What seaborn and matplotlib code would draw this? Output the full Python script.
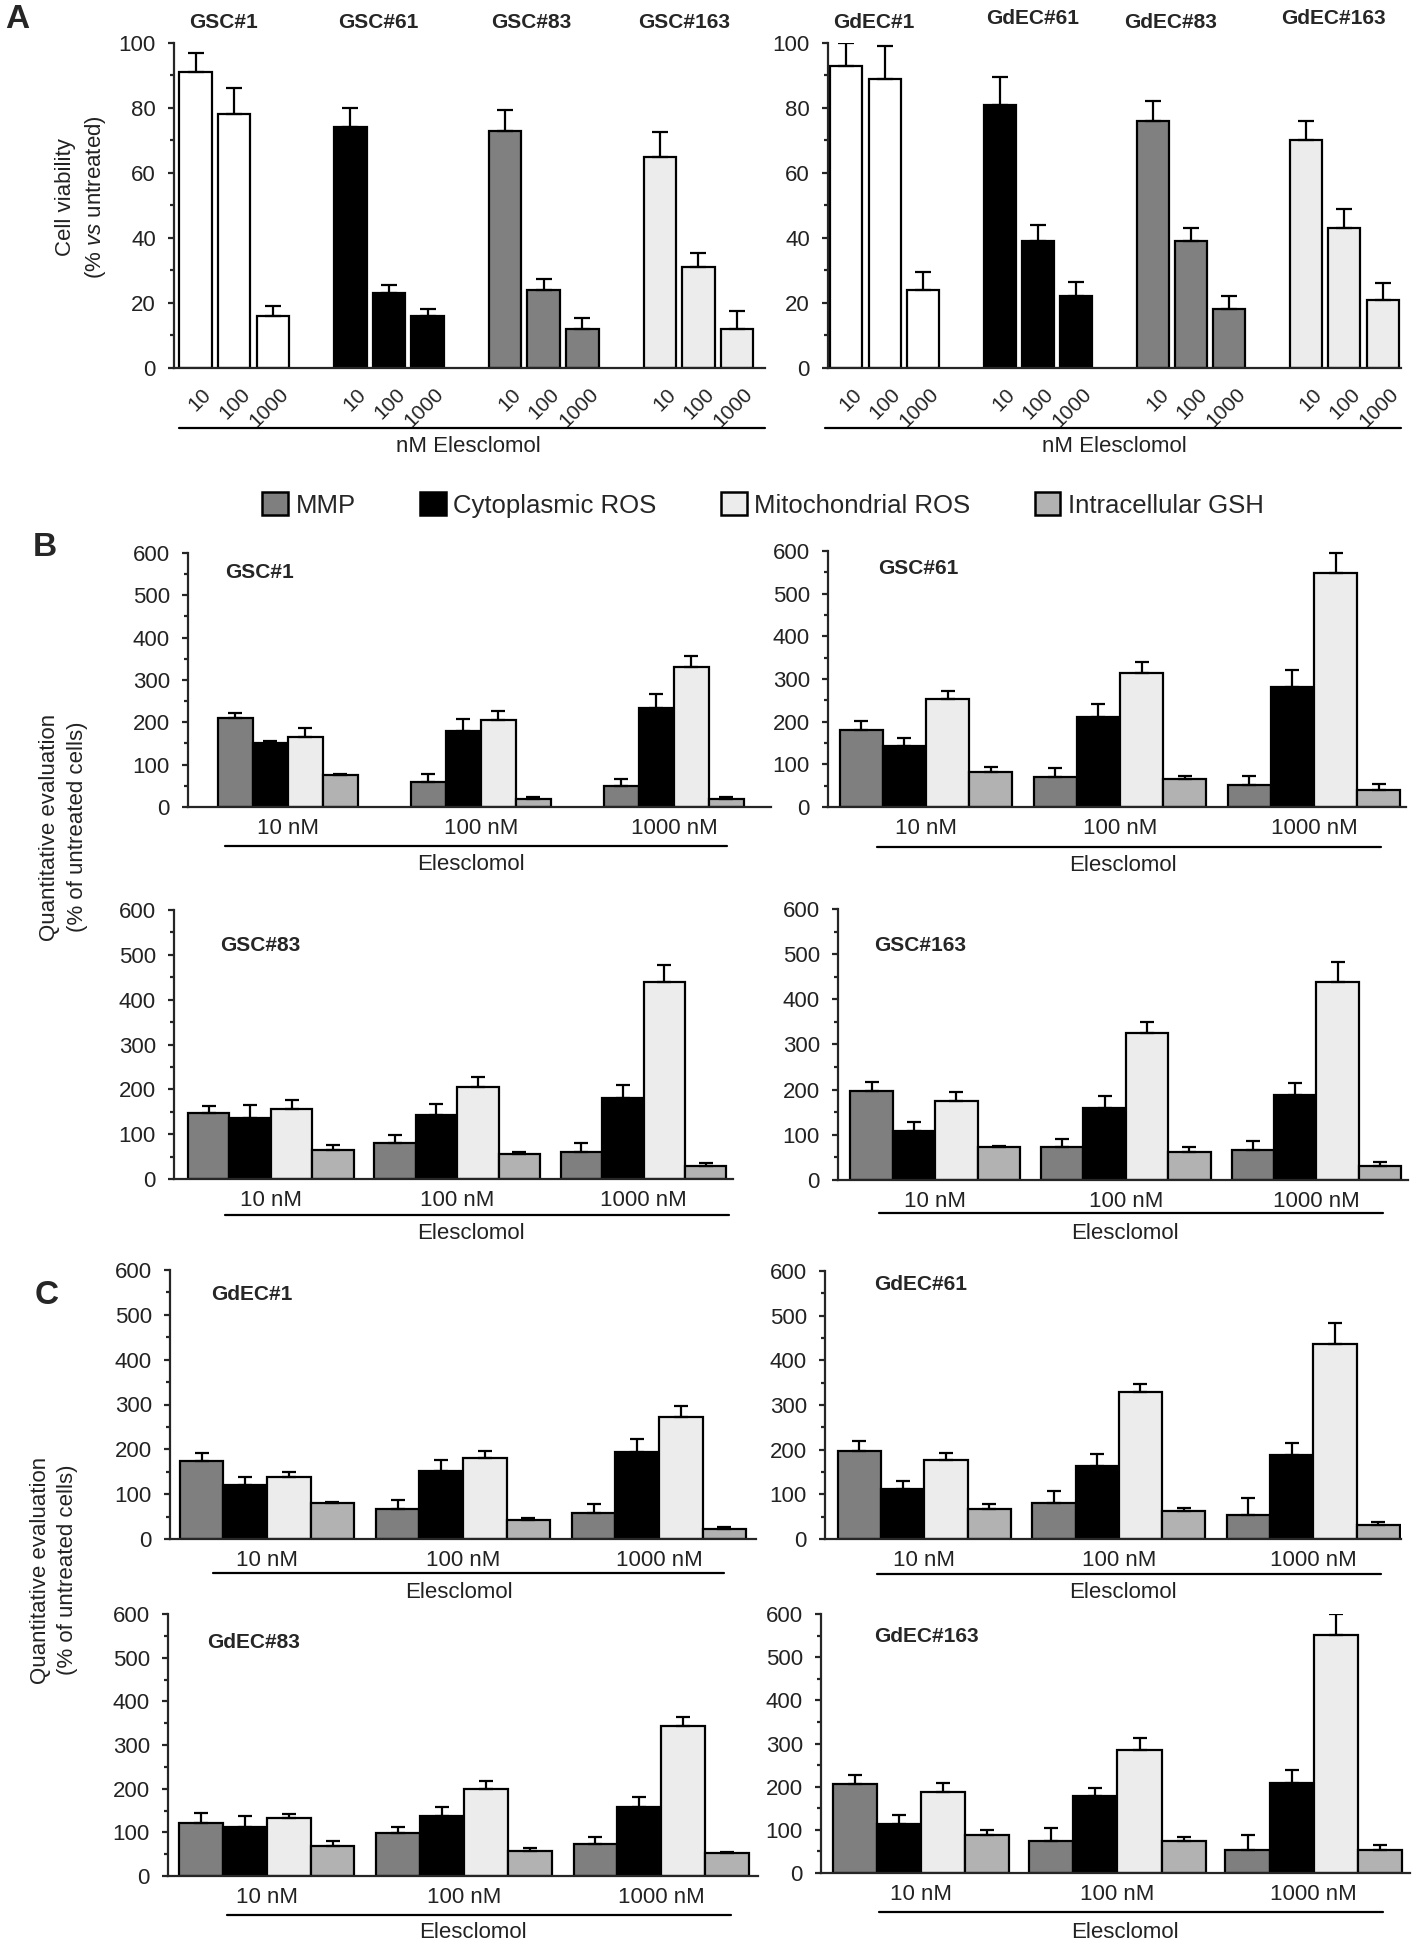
import numpy as np
import pandas as pd
import matplotlib
matplotlib.use("Agg")
import matplotlib.pyplot as plt
import seaborn as sns
from matplotlib.container import BarContainer
from matplotlib.lines import Line2D
from matplotlib.patches import Patch
from matplotlib.ticker import MultipleLocator

W, H = 1418, 1944

# ---- panel A: cell viability (% vs untreated), mean and SD
doses_a = ["10", "100", "1000"]
gsc_lines = ["GSC#1", "GSC#61", "GSC#83", "GSC#163"]
gsc_viab = [[91, 78, 16], [74, 23, 16], [73, 24, 12], [65, 31, 12]]
gsc_viab_sd = [[6, 8, 3], [6, 2.5, 2], [6.5, 3.5, 3.5], [7.5, 4.5, 5.5]]
gdec_lines = ["GdEC#1", "GdEC#61", "GdEC#83", "GdEC#163"]
gdec_viab = [[93, 89, 24], [81, 39, 22], [76, 39, 18], [70, 43, 21]]
gdec_viab_sd = [[7, 10, 5.5], [8.5, 5, 4.5], [6, 4, 4], [6, 6, 5]]

# ---- panels B/C: rows = measure, columns = 10 / 100 / 1000 nM
measures = ["MMP", "Cytoplasmic ROS", "Mitochondrial ROS", "Intracellular GSH"]
doses_bc = ["10 nM", "100 nM", "1000 nM"]

gsc1_mean = [[211, 59, 50], [150, 180, 235], [166, 205, 331], [75, 18, 20]]
gsc1_sd = [[12, 18, 16], [5, 28, 32], [21, 22, 26], [4, 6, 4]]
gsc61_mean = [[180, 70, 51], [143, 211, 281], [252, 315, 548], [82, 66, 41]]
gsc61_sd = [[22, 22, 22], [19, 30, 39], [20, 26, 48], [12, 6, 12]]
gsc83_mean = [[147, 80, 60], [137, 143, 180], [156, 206, 440], [65, 56, 28]]
gsc83_sd = [[15, 19, 20], [28, 24, 29], [21, 21, 37], [11, 4, 8]]
gsc163_mean = [[198, 72, 67], [109, 160, 188], [176, 325, 439], [72, 61, 30]]
gsc163_sd = [[20, 19, 19], [19, 25, 26], [18, 24, 43], [4, 11, 9]]

gdec1_mean = [[175, 68, 58], [121, 152, 195], [138, 181, 273], [80, 42, 22]]
gdec1_sd = [[17, 20, 20], [17, 25, 29], [11, 16, 23], [2, 5, 4]]
gdec61_mean = [[196, 80, 54], [112, 164, 189], [176, 328, 437], [67, 63, 31]]
gdec61_sd = [[24, 27, 38], [18, 27, 27], [16, 19, 46], [11, 6, 7]]
gdec83_mean = [[122, 98, 73], [113, 138, 157], [133, 200, 343], [68, 58, 52]]
gdec83_sd = [[22, 14, 16], [25, 19, 25], [9, 17, 22], [12, 5, 4]]
gdec163_mean = [[206, 74, 54], [114, 178, 209], [188, 285, 552], [88, 74, 53]]
gdec163_sd = [[22, 31, 35], [20, 20, 29], [21, 27, 48], [12, 10, 12]]

line_colors = ["#ffffff", "#000000", "#808080", "#ececec"]
measure_colors = ["#7f7f7f", "#000000", "#ececec", "#b2b2b2"]

sns.set_style("white")
plt.rcParams["font.family"] = ["Liberation Sans", "DejaVu Sans"]
plt.rcParams["mathtext.fontset"] = "custom"
plt.rcParams["mathtext.it"] = "Liberation Sans:italic"
plt.rcParams["mathtext.rm"] = "Liberation Sans"

LW = 1.6
fig = plt.figure(figsize=(W / 100, H / 100), dpi=100)


def rect(left, right, top, bottom):
    return [left / W, 1 - bottom / H, (right - left) / W, (bottom - top) / H]


def ftext(x, y, s, **kw):
    fig.text(x / W, 1 - y / H, s, **kw)


def fline(x0, x1, y):
    fig.add_artist(Line2D([x0 / W, x1 / W], [1 - y / H, 1 - y / H],
                          transform=fig.transFigure, color="black", lw=LW))


def bar_containers(ax):
    return [c for c in ax.containers if isinstance(c, BarContainer)]


def style_axes(ax, ymax, major, minor):
    sns.despine(ax=ax)
    for s in ("left", "bottom"):
        ax.spines[s].set_linewidth(LW)
    ax.set_ylim(0, ymax)
    ax.yaxis.set_major_locator(MultipleLocator(major))
    ax.yaxis.set_minor_locator(MultipleLocator(minor))
    ax.tick_params(axis="y", which="major", direction="out", left=True,
                   length=4, width=LW, labelsize=16, pad=9, labelcolor="#222222")
    ax.tick_params(axis="y", which="minor", direction="out", left=True,
                   length=3, width=LW)
    ax.set_xlabel("")
    ax.set_ylabel("")


# ---------------- panel A ----------------
def viability_panel(box, xlim, lines, vals, sds, titles_xy, line_seg, text_xy):
    ax = fig.add_axes(rect(*box))
    rows = []
    for g, name in enumerate(lines):
        for k, d in enumerate(doses_a):
            rows.append({"slot": g * 4 + k, "line": name, "dose": d,
                         "value": vals[g][k], "sd": sds[g][k]})
    df = pd.DataFrame(rows)
    sns.barplot(data=df, x="slot", y="value", hue="line", hue_order=lines,
                palette=line_colors, native_scale=True, dodge=False, width=0.84,
                errorbar=None, saturation=1, edgecolor="black", linewidth=LW,
                legend=False, ax=ax)
    lookup = df.set_index("slot")
    for cont in bar_containers(ax):
        for bar in cont:
            xc = bar.get_x() + bar.get_width() / 2
            row = lookup.loc[int(round(xc))]
            ax.errorbar(xc, row["value"], yerr=[[0], [row["sd"]]], fmt="none",
                        ecolor="black", elinewidth=LW, capsize=6, capthick=LW)
    style_axes(ax, 100, 20, 10)
    ax.set_xlim(*xlim)
    ax.set_xticks(df["slot"] + 0.16)
    ax.set_xticklabels(df["dose"], rotation=45, ha="right",
                       rotation_mode="anchor", fontsize=15, color="#222222")
    ax.tick_params(axis="x", length=0, pad=12)
    for name, (tx, ty) in zip(lines, titles_xy):
        ftext(tx, ty, name, ha="center", va="center", fontsize=15,
              fontweight="bold")
    fline(*line_seg)
    ftext(*text_xy, "nM Elesclomol", ha="center", va="center", fontsize=16,
          color="#222222")


viability_panel((174, 765, 43, 368), (-0.556, 14.72), gsc_lines, gsc_viab,
                gsc_viab_sd, [(224, 23), (378, 23), (531, 23), (684, 23)],
                (179, 765, 428), (468, 446))
viability_panel((828, 1401, 43, 368), (-0.48, 14.48), gdec_lines, gdec_viab,
                gdec_viab_sd, [(874, 22), (1033, 18), (1171, 22), (1333, 18)],
                (825, 1401, 428), (1114, 446))

ftext(17, 20, "A", ha="center", va="center", fontsize=24, fontweight="bold")
ftext(65, 197, "Cell viability", rotation=90, ha="center", va="center",
      fontsize=16, color="#222222")
ftext(95, 197, r"(% $\it{vs}$ untreated)", rotation=90, ha="center",
      va="center", fontsize=16, color="#222222")


# ---------------- panels B and C ----------------
def measure_panel(title, mean, sd, box, width, xlim, title_xy, line_seg, eles_xy):
    ax = fig.add_axes(rect(*box))
    df = pd.DataFrame([{"measure": m, "dose": d, "value": mean[i][j]}
                       for i, m in enumerate(measures)
                       for j, d in enumerate(doses_bc)])
    sns.barplot(data=df, x="dose", y="value", hue="measure",
                order=doses_bc, hue_order=measures, palette=measure_colors,
                width=width, gap=0, errorbar=None, saturation=1,
                edgecolor="black", linewidth=LW, legend=False, ax=ax)
    for i, cont in enumerate(bar_containers(ax)):
        for bar in cont:
            xc = bar.get_x() + bar.get_width() / 2
            j = int(round(xc))
            ax.errorbar(xc, mean[i][j], yerr=[[0], [sd[i][j]]], fmt="none",
                        ecolor="black", elinewidth=LW, capsize=5, capthick=LW)
    style_axes(ax, 600, 100, 50)
    ax.set_xlim(*xlim)
    ax.tick_params(axis="x", length=0, pad=8, labelsize=16, labelcolor="#222222")
    ftext(*title_xy, title, ha="left", va="center", fontsize=15,
          fontweight="bold")
    fline(*line_seg)
    ftext(*eles_xy, "Elesclomol", ha="center", va="center", fontsize=16,
          color="#222222")


measure_panel("GSC#1", gsc1_mean, gsc1_sd, (188, 771, 553, 807), 0.725,
              (-0.518, 2.503), (225, 572), (225, 727, 846), (471, 864))
measure_panel("GSC#61", gsc61_mean, gsc61_sd, (828, 1406, 551, 807), 0.89,
              (-0.505, 2.474), (878, 568), (877, 1381, 847), (1123, 865))
measure_panel("GSC#83", gsc83_mean, gsc83_sd, (174, 733, 910, 1179), 0.89,
              (-0.52, 2.48), (220, 945), (225, 729, 1215), (471, 1233))
measure_panel("GSC#163", gsc163_mean, gsc163_sd, (838, 1408, 909, 1180), 0.89,
              (-0.51, 2.48), (874, 945), (879, 1383, 1213), (1125, 1233))
measure_panel("GdEC#1", gdec1_mean, gdec1_sd, (170, 756, 1270, 1539), 0.89,
              (-0.495, 2.495), (211, 1294), (213, 724, 1573), (459, 1592))
measure_panel("GdEC#61", gdec61_mean, gdec61_sd, (825, 1401, 1271, 1539), 0.89,
              (-0.51, 2.45), (874, 1284), (877, 1381, 1574), (1123, 1592))
measure_panel("GdEC#83", gdec83_mean, gdec83_sd, (168, 758, 1614, 1876), 0.89,
              (-0.50, 2.49), (207, 1642), (227, 731, 1915), (473, 1932))
measure_panel("GdEC#163", gdec163_mean, gdec163_sd, (821, 1410, 1614, 1873), 0.9,
              (-0.51, 2.49), (874, 1636), (879, 1383, 1912), (1125, 1932))

ftext(45, 548, "B", ha="center", va="center", fontsize=24, fontweight="bold")
ftext(47, 1295, "C", ha="center", va="center", fontsize=24, fontweight="bold")
for x1, x2, yc in [(50, 78, 827), (41, 68, 1570)]:
    ftext(x1, yc, "Quantitative evaluation", rotation=90, ha="center",
          va="center", fontsize=16, color="#222222")
    ftext(x2, yc, "(% of untreated cells)", rotation=90, ha="center",
          va="center", fontsize=16, color="#222222")

handles = [Patch(facecolor=c, edgecolor="black", linewidth=1.8, label=m)
           for m, c in zip(measures, measure_colors)]
fig.legend(handles=handles, loc="center", bbox_to_anchor=(763 / W, 1 - 505 / H),
           ncol=4, frameon=False, fontsize=18.5, handlelength=1.0,
           handleheight=1.0, handletextpad=0.3, columnspacing=2.5)

fig.savefig("out.png", dpi=100, facecolor="white")
